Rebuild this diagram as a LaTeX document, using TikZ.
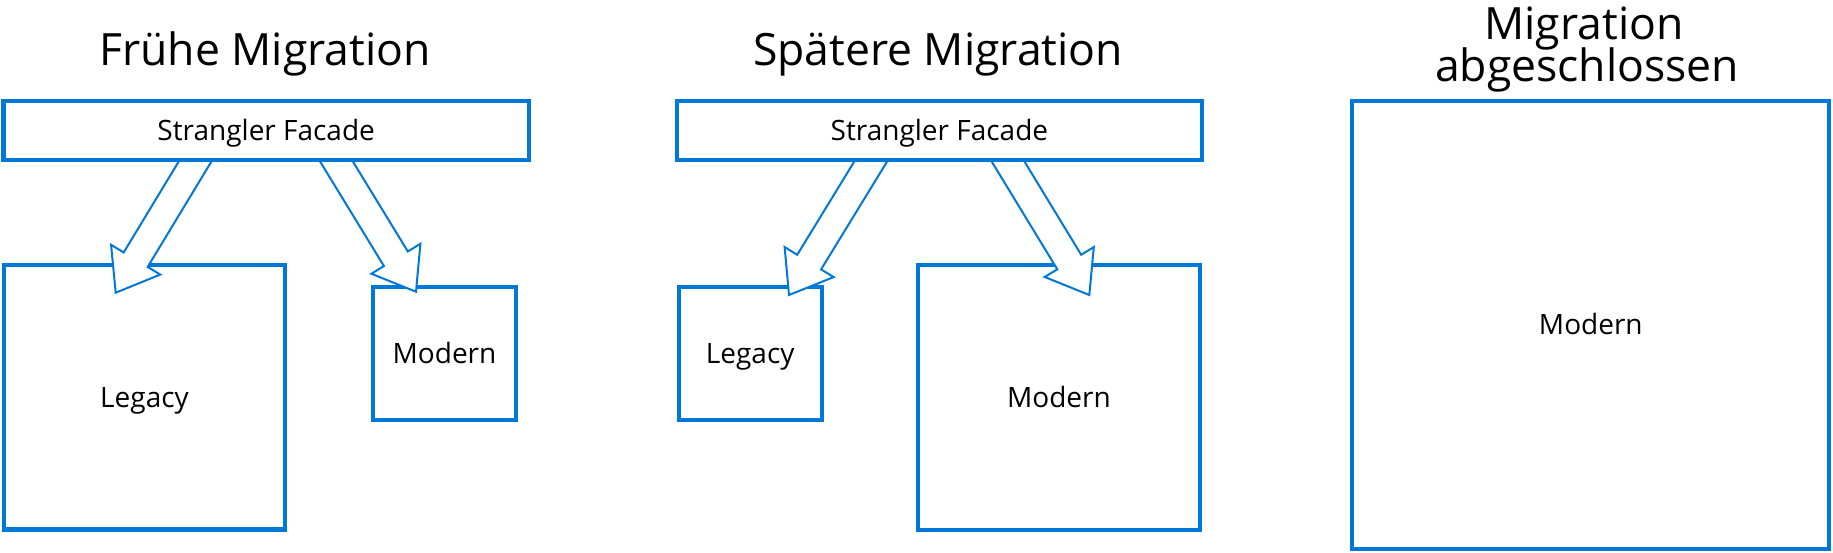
\documentclass[tikz,border=0pt]{standalone}
\usepackage{fontspec}
\setmainfont{Open Sans}
\usetikzlibrary{calc}
\definecolor{msblue}{RGB}{0,120,215}
\newcommand{\blockarrow}[2]{%
  \coordinate (#1base) at ($(#2)!38.6pt!(#1)$);
  \draw[arrowline] ($(#1)!14pt!90:(#2)$) -- ($(#1base)!14pt!90:(#2)$)
    -- ($(#1base)!28.75pt!90:(#2)$) -- (#2)
    -- ($(#1base)!28.75pt!-90:(#2)$) -- ($(#1base)!14pt!-90:(#2)$)
    -- ($(#1)!14pt!-90:(#2)$) -- cycle;}
\begin{document}
\begin{tikzpicture}[x=1pt,y=-1pt,
  box/.style={draw=msblue, line width=4.3pt, fill=white, inner sep=0pt,
    text height=20pt, text depth=0pt, font=\fontsize{28}{34}\selectfont},
  arrowline/.style={draw=msblue, line width=2pt, fill=white, line join=miter},
  title/.style={anchor=base, inner sep=0pt, font=\fontsize{44.5}{53}\selectfont}]
\useasboundingbox (0,0) rectangle (1833,552);

% titles
\node[title] (t1) at (265,65) {Frühe Migration};
\node[title] (t2) at (938,65) {Spätere Migration};
\node[title] (t3a) at (1584,39.3) {Migration};
\node[title] (t3b) at (1587,81.7) {abgeschlossen};

% target boxes
\node[box, minimum width=281.6pt, minimum height=264.3pt] (leg1) at (144.5,397.2) {Legacy};
\node[box, minimum width=142.4pt, minimum height=133.6pt] (mod1) at (444.5,353.5) {Modern};
\node[box, minimum width=143pt, minimum height=133.6pt] (leg2) at (750.2,353.5) {Legacy};
\node[box, minimum width=282.3pt, minimum height=265pt] (mod2) at (1058.9,397.5) {Modern};
\node[box, minimum width=477pt, minimum height=448.3pt] (mod3) at (1590.8,324.9) {Modern};

% arrow ends
\coordinate (a1s) at (202.1,149.9);
\coordinate (a1t) at (115.7,292.7);
\coordinate (a2s) at (329.4,149.9);
\coordinate (a2t) at (416,291.7);
\coordinate (a3s) at (877.8,149.9);
\coordinate (a3t) at (789,295);
\coordinate (a4s) at (1001,149.9);
\coordinate (a4t) at (1089.3,295);
\blockarrow{a1s}{a1t}
\blockarrow{a2s}{a2t}
\blockarrow{a3s}{a3t}
\blockarrow{a4s}{a4t}

% facades
\node[box, minimum width=525.5pt, minimum height=59.6pt] (f1) at (266.2,130.5) {Strangler Facade};
\node[box, minimum width=525.3pt, minimum height=59.6pt] (f2) at (939.4,130.5) {Strangler Facade};
\end{tikzpicture}
\end{document}
